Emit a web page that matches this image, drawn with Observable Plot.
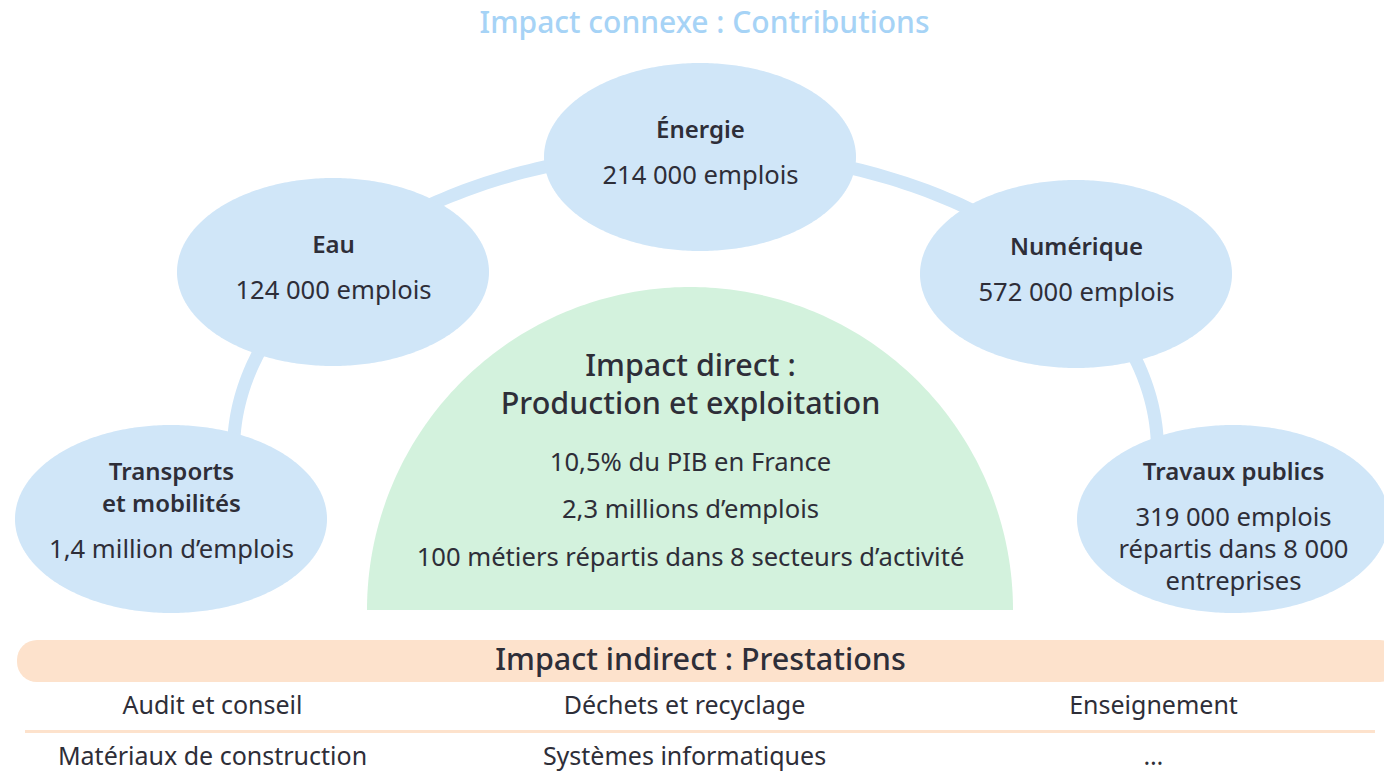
<!DOCTYPE html>
<html>
<head>
<meta charset="utf-8">
<script src="https://cdn.jsdelivr.net/npm/d3@7"></script>
<script src="https://cdn.jsdelivr.net/npm/@observablehq/plot@0.6"></script>
<style>
  html, body { margin: 0; padding: 0; background: #fff; }
  svg { display: block; }
</style>
</head>
<body>
<div id="chart"></div>
<script>
// ---------- DATA ----------
const title = "Impact connexe : Contributions";
const sectors = ["Transports\net mobilités", "Eau", "Énergie", "Numérique", "Travaux publics"];
const sectorJobs = [
  "1,4 million d’emplois",
  "124 000 emplois",
  "214 000 emplois",
  "572 000 emplois",
  "319 000 emplois\nrépartis dans 8 000\nentreprises"
];
const directTitle = ["Impact direct :", "Production et exploitation"];
const directFacts = [
  "10,5% du PIB en France",
  "2,3 millions d’emplois",
  "100 métiers répartis dans 8 secteurs d’activité"
];
const indirectTitle = "Impact indirect : Prestations";
const services = [
  "Audit et conseil", "Déchets et recyclage", "Enseignement",
  "Matériaux de construction", "Systèmes informatiques", "…"
];

// ---------- LAYOUT ----------
const W = 1384, H = 771;
const BLUE = "#d0e6f8", GREEN = "#d3f2dd", ORANGE = "#fde2cc", TITLE = "#a6d3f6", INK = "#2e2e38";
const FONT = "'Noto Sans', 'Open Sans', sans-serif";
const nodeCenters = [[171, 519], [333, 272], [700, 157], [1076, 274], [1233, 519]];
const nodeR = [156, 94];
const arc = {cx: 695, cy: 450, rx: 462, ry: 300, from: 190, to: -10};
const direct = {cx: 690, base: 610, r: 323};

// ellipse outlines as areas (upper/lower halves)
function ellipseArea(id, cx, cy, rx, ry, n = 200) {
  const pts = [];
  for (let i = 0; i <= n; i++) {
    const t = Math.PI - Math.PI * i / n;
    const x = cx + rx * Math.cos(t);
    const h = ry * Math.sin(t);
    pts.push({id, x, y1: cy - h, y2: cy + h});
  }
  return pts;
}
const nodeAreas = nodeCenters.flatMap(([cx, cy], i) => ellipseArea(i, cx, cy, nodeR[0], nodeR[1]));
const directArea = ellipseArea("d", direct.cx, direct.base, direct.r, direct.r).map(d => ({...d, y2: direct.base}));

const bandPts = d3.range(0, 201).map(i => {
  const a = (arc.from + (arc.to - arc.from) * i / 200) * Math.PI / 180;
  return {x: arc.cx + arc.rx * Math.cos(a), y: arc.cy - arc.ry * Math.sin(a)};
});

// node texts
const nodeTexts = [];
sectors.forEach((name, i) => {
  const [cx, cy] = nodeCenters[i];
  const nLines = name.split("\n");
  const vLines = sectorJobs[i].split("\n");
  const totalLines = nLines.length + vLines.length;
  let y = cy - (totalLines > 2 ? 47 : 27);
  nLines.forEach((t, k) => nodeTexts.push({x: cx, y: y + k * 32, text: t, bold: true}));
  y += (nLines.length - 1) * 32 + 45;
  vLines.forEach((t, k) => nodeTexts.push({x: cx, y: y + k * 32, text: t, bold: false}));
});

const directTitleTexts = directTitle.map((t, i) => ({x: direct.cx, y: 366 + i * 38, text: t}));
const directFactTexts = directFacts.map((t, i) => ({x: direct.cx, y: 462 + i * 47.5, text: t}));
const colX = [212, 684, 1153], rowY = [705, 756];
const serviceTexts = services.map((t, i) => ({x: colX[i % 3], y: rowY[Math.floor(i / 3)], text: t}));

const chart = Plot.plot({
  width: W, height: H,
  margin: 0,
  x: {domain: [0, W], range: [0, W], axis: null},
  y: {domain: [0, H], range: [0, H], axis: null},
  style: {fontFamily: FONT, background: "#fff"},
  marks: [
    Plot.line(bandPts, {x: "x", y: "y", stroke: BLUE, strokeWidth: 13, curve: "linear"}),
    Plot.areaY(nodeAreas, {x: "x", y1: "y1", y2: "y2", z: "id", fill: BLUE, curve: "linear"}),
    Plot.areaY(directArea, {x: "x", y1: "y1", y2: "y2", fill: GREEN, curve: "linear"}),
    Plot.rect([0], {x1: () => 17, x2: () => 1400, y1: () => 640, y2: () => 682, fill: ORANGE, rx: 20}),
    Plot.ruleY([731], {x1: 25, x2: 1375, stroke: ORANGE, strokeWidth: 3}),
    Plot.text([title], {x: () => 704, y: () => 23, text: d => d, fontSize: 30, fill: TITLE, fontWeight: 500, lineAnchor: "middle"}),
    Plot.text(nodeTexts.filter(d => d.bold), {x: "x", y: "y", text: "text", fontSize: 24, fontWeight: 600, fill: INK, lineAnchor: "middle"}),
    Plot.text(nodeTexts.filter(d => !d.bold), {x: "x", y: "y", text: "text", fontSize: 25.6, fill: INK, lineAnchor: "middle"}),
    Plot.text(directTitleTexts, {x: "x", y: "y", text: "text", fontSize: 30.5, fontWeight: 500, fill: INK, lineAnchor: "middle"}),
    Plot.text(directFactTexts, {x: "x", y: "y", text: "text", fontSize: 25.6, fill: INK, lineAnchor: "middle"}),
    Plot.text([indirectTitle], {x: () => 700, y: () => 660, text: d => d, fontSize: 30.5, fontWeight: 500, fill: INK, lineAnchor: "middle"}),
    Plot.text(serviceTexts, {x: "x", y: "y", text: "text", fontSize: 25, fill: INK, lineAnchor: "middle"})
  ]
});
document.getElementById("chart").appendChild(chart);
</script>
</body>
</html>
